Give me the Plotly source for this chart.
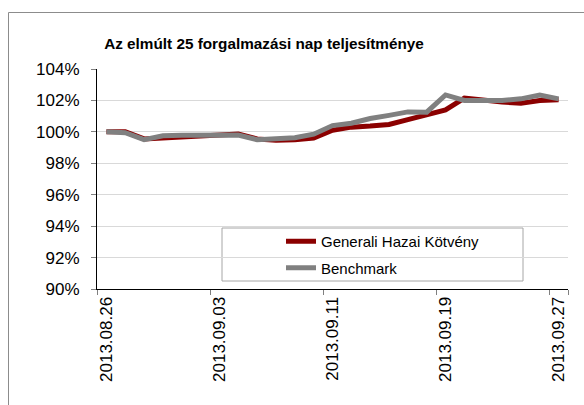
import plotly.graph_objects as go

dates = ["2013.08.26", "2013.08.27", "2013.08.28", "2013.08.29", "2013.08.30",
         "2013.09.02", "2013.09.03", "2013.09.04", "2013.09.05", "2013.09.06",
         "2013.09.09", "2013.09.10", "2013.09.11", "2013.09.12", "2013.09.13",
         "2013.09.16", "2013.09.17", "2013.09.18", "2013.09.19", "2013.09.20",
         "2013.09.23", "2013.09.24", "2013.09.25", "2013.09.26", "2013.09.27"]

generali = [1.0000, 1.0000, 0.9955, 0.9960, 0.9965, 0.9972, 0.9980, 0.9986, 0.9955, 0.9947,
            0.9950, 0.9960, 1.0010, 1.0030, 1.0037, 1.0047, 1.0078, 1.0112, 1.0140, 1.0215,
            1.0200, 1.0190, 1.0182, 1.0200, 1.0205]

benchmark = [1.0000, 0.9995, 0.9950, 0.9975, 0.9978, 0.9980, 0.9982, 0.9980, 0.9950, 0.9955,
             0.9962, 0.9985, 1.0040, 1.0055, 1.0085, 1.0105, 1.0127, 1.0125, 1.0235, 1.0200,
             1.0200, 1.0200, 1.0210, 1.0235, 1.0210]

series_names = ["Generali Hazai Kötvény", "Benchmark"]
title_text = "Az elmúlt 25 forgalmazási nap teljesítménye"
shown_dates = [dates[i] for i in range(0, len(dates), 6)]

FONT = "Liberation Sans, Arial, sans-serif"

fig = go.Figure()
fig.add_trace(go.Scatter(x=dates, y=generali, mode="lines", name=series_names[0],
                         legendgroup="g1", line=dict(color="#8b0000", width=5)))
fig.add_trace(go.Scatter(x=dates, y=benchmark, mode="lines", name=series_names[1],
                         legendgroup="g2", line=dict(color="#808080", width=5)))

L, R, T, B = 97, 16, 69, 116
W, H = 584, 405
pw, ph = W - L - R, H - T - B

fig.update_layout(
    width=W, height=H,
    margin=dict(l=L, r=R, t=T, b=B, autoexpand=False),
    paper_bgcolor="white", plot_bgcolor="white",
    font=dict(family=FONT, color="black"),
    title=dict(text="<b>" + title_text + "</b>", font=dict(size=15.3, family=FONT),
               xref="paper", x=(264 - L) / pw, xanchor="center",
               yref="container", y=1 - 44 / H, yanchor="middle"),
    xaxis=dict(type="category", range=[-0.5, len(dates) - 0.5],
               tickmode="array", tickvals=shown_dates, ticktext=shown_dates,
               tickangle=-90, tickfont=dict(size=17), tickson="boundaries",
               ticks="outside", ticklen=5, tickcolor="#808080",
               showgrid=False, showline=True, linecolor="black", linewidth=1.2),
    yaxis=dict(range=[0.90, 1.04], dtick=0.02, tick0=0.90, tickformat=".0%",
               tickfont=dict(size=17), ticks="outside", ticklen=5, tickcolor="#808080",
               showgrid=True, gridcolor="#d9d9d9", gridwidth=1, zeroline=False,
               showline=True, linecolor="black", linewidth=1.2, ticklabelstandoff=8),
    legend=dict(x=(281 - L) / pw, y=(289 - 225) / ph, xanchor="left", yanchor="top",
                bgcolor="rgba(0,0,0,0)", borderwidth=0, font=dict(size=15),
                tracegroupgap=4, itemwidth=30),
    shapes=[
        dict(type="rect", xref="paper", yref="paper",
             x0=(222 - L) / pw, x1=(523 - L) / pw, y0=(289 - 281) / ph, y1=(289 - 228) / ph,
             line=dict(color="#a6a6a6", width=1), fillcolor="white", layer="below"),
        dict(type="rect", xref="paper", yref="paper",
             x0=(8.5 - L) / pw, x1=1.2, y0=-1.0, y1=(289 - 12.5) / ph,
             line=dict(color="#8c8c8c", width=1), fillcolor="rgba(0,0,0,0)", layer="below"),
    ],
)

fig.write_html("out.html", config={"displayModeBar": False})

# remove the browser's default body margin so the figure sits at the page origin
with open("out.html", "r", encoding="utf-8") as f:
    html = f.read()
html = html.replace("<head>", "<head><style>html,body{margin:0;padding:0;overflow:hidden}</style>", 1)
with open("out.html", "w", encoding="utf-8") as f:
    f.write(html)
